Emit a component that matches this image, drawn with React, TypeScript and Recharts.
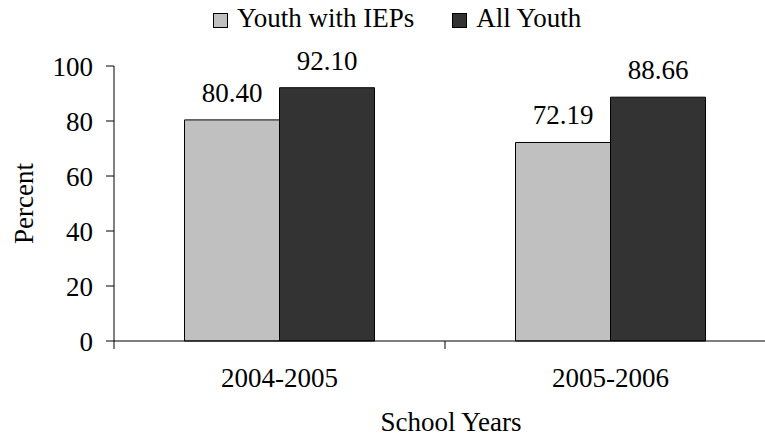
import { Bar, BarChart, LabelList, XAxis, YAxis } from "recharts";

const schoolYears = ["2004-2005", "2005-2006"];
const iepValues = [80.4, 72.19];
const allYouthValues = [92.1, 88.66];
const seriesNames = ["Youth with IEPs", "All Youth"];
const seriesColors = ["#c0c0c0", "#333333"];
const yTicks = [0, 20, 40, 60, 80, 100];

const FONT = '"Liberation Serif", "Times New Roman", serif';
const FS = 27;

const data = schoolYears.map((year, i) => ({
  year,
  iep: iepValues[i],
  all: allYouthValues[i],
}));

function YearTick(props: any) {
  const { x, y, payload } = props;
  const half = payload?.offset ?? 0;
  return (
    <g>
      {half > 0 && <line x1={x - half} x2={x - half} y1={y - 8} y2={y} stroke="#000" />}
      <text x={x} y={y + 38} textAnchor="middle" fill="#000" fontSize={FS} fontFamily={FONT}>
        {payload.value}
      </text>
    </g>
  );
}

function ValueLabel(props: any) {
  const { x, y, width, value } = props;
  return (
    <text x={x + width / 2} y={y - 18} textAnchor="middle" fill="#000" fontSize={FS} fontFamily={FONT}>
      {Number(value).toFixed(2)}
    </text>
  );
}

export default function App() {
  return (
    <div style={styles.page}>
      <BarChart
        width={776}
        height={440}
        data={data}
        margin={{ top: 66, right: 0, left: 0, bottom: 0 }}
        barGap={0}
        barCategoryGap="21.3%"
        style={{ fontFamily: FONT }}
      >
        <XAxis
          dataKey="year"
          height={99}
          axisLine={{ stroke: "#000" }}
          tickLine={false}
          tickSize={8}
          tickMargin={0}
          tick={<YearTick />}
          interval={0}
          label={{
            content: (p: any) => {
              const vb = p.viewBox;
              return (
                <text x={vb.x + vb.width / 2 + 6} y={vb.y + 90} textAnchor="middle" fill="#000" fontSize={FS} fontFamily={FONT}>
                  School Years
                </text>
              );
            },
          }}
        />
        <YAxis
          width={114}
          domain={[0, 100]}
          ticks={yTicks}
          interval={0}
          axisLine={{ stroke: "#000" }}
          tickLine={{ stroke: "#000" }}
          tickSize={8}
          tickMargin={13}
          tick={{ fill: "#000", fontSize: FS, fontFamily: FONT }}
          label={{
            content: (p: any) => {
              const vb = p.viewBox;
              const cx = vb.x + 24;
              const cy = vb.y + vb.height / 2;
              return (
                <text
                  x={cx}
                  y={cy}
                  transform={`rotate(-90, ${cx}, ${cy})`}
                  textAnchor="middle"
                  dominantBaseline="central"
                  fill="#000"
                  fontSize={FS}
                  fontFamily={FONT}
                >
                  Percent
                </text>
              );
            },
          }}
        />
        <Bar dataKey="iep" name={seriesNames[0]} fill={seriesColors[0]} stroke="#000" strokeWidth={1} isAnimationActive={false}>
          <LabelList dataKey="iep" content={<ValueLabel />} />
        </Bar>
        <Bar dataKey="all" name={seriesNames[1]} fill={seriesColors[1]} stroke="#000" strokeWidth={1} isAnimationActive={false}>
          <LabelList dataKey="all" content={<ValueLabel />} />
        </Bar>
      </BarChart>
      <div style={styles.legend}>
        {seriesNames.map((name, i) => (
          <div key={name} style={styles.legendItem}>
            <span style={{ ...styles.swatch, background: seriesColors[i] }} />
            <span>{name}</span>
          </div>
        ))}
      </div>
    </div>
  );
}

const styles: Record<string, React.CSSProperties> = {
  page: {
    position: "fixed",
    left: 0,
    top: 0,
    width: 765,
    height: 440,
    overflow: "hidden",
    background: "#ffffff",
  },
  legend: {
    position: "absolute",
    left: 213,
    top: 3,
    display: "flex",
    fontFamily: FONT,
    fontSize: FS,
    lineHeight: "30px",
    color: "#000",
    whiteSpace: "nowrap",
  },
  legendItem: {
    display: "flex",
    alignItems: "center",
    marginRight: 38,
  },
  swatch: {
    display: "inline-block",
    width: 15,
    height: 15,
    border: "1px solid #000",
    boxSizing: "border-box",
    marginRight: 9,
    marginTop: 4,
  },
};
